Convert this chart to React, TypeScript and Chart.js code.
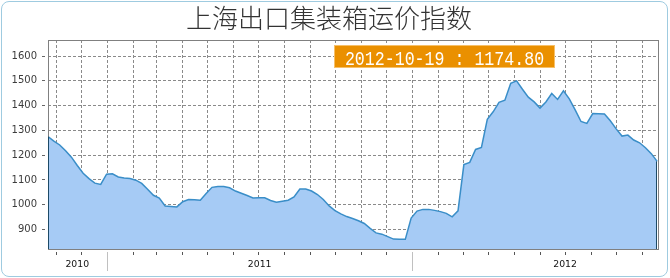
import React, { useEffect, useRef } from 'react';
import { Chart, registerables } from 'chart.js';

Chart.register(...registerables);

const TITLE = '上海出口集装箱运价指数';
const FIRST_WEEK = '2010-10-22';

// weekly index values (2010-10-22 … 2012-10-19)
const indexValues = [
  1275, 1257, 1241, 1218, 1192, 1158, 1127, 1105, 1087, 1082,
  1123, 1125, 1112, 1108, 1106, 1099, 1086, 1062, 1038, 1027,
  995, 993, 991, 1012, 1021, 1020, 1018, 1045, 1070, 1073,
  1073, 1068, 1055, 1046, 1037, 1027, 1028, 1028, 1017, 1010,
  1014, 1018, 1031, 1063, 1063, 1055, 1041, 1021, 995, 976,
  963, 952, 944, 935, 924, 904, 886, 881, 871, 861,
  860, 860, 946, 974, 981, 981, 977, 972, 965, 951,
  975, 1162, 1171, 1223, 1231, 1345, 1375, 1413, 1422, 1490,
  1500, 1466, 1434, 1415, 1390, 1415, 1449, 1425, 1460, 1427,
  1383, 1336, 1328, 1368, 1367, 1366, 1339, 1306, 1277, 1281,
  1261, 1250, 1230, 1206, 1174.8,
];

const yTickValues = [900, 1000, 1100, 1200, 1300, 1400, 1500, 1600];
const yearLabels = ['2010', '2011', '2012'];
const yearLabelDates = ['2010-11-26', '2011-07-02', '2012-07-01'];
const yearStartDates = ['2011-01-01', '2012-01-01'];
const Y_MIN = 821;
const Y_MAX = 1665;

const DAY = 86400000;
const toDay = (s: string) => Date.parse(s + 'T00:00:00Z') / DAY;
const toIso = (d: number) => new Date(d * DAY).toISOString().slice(0, 10);

const weekDates = indexValues.map((_, i) => toIso(toDay(FIRST_WEEK) + 7 * i));

const monthTickDates: string[] = [];
for (let y = 2010; y <= 2012; y++) {
  for (let m = 1; m <= 12; m++) {
    const s = `${y}-${String(m).padStart(2, '0')}-01`;
    if (toDay(s) > toDay(weekDates[0]) && toDay(s) < toDay(weekDates[weekDates.length - 1])) monthTickDates.push(s);
  }
}

const decorPlugin = {
  id: 'decor',
  afterDraw(chart: any) {
    const { ctx, chartArea: a, scales } = chart;
    const x = scales.x;
    const y = scales.y;
    const L = Math.round(a.left);
    const T = Math.round(a.top);
    const R = Math.round(a.right);
    const B = Math.round(a.bottom);
    ctx.save();
    // frame
    ctx.strokeStyle = '#808080';
    ctx.lineWidth = 1;
    ctx.setLineDash([]);
    ctx.strokeRect(L + 0.5, T + 0.5, R - L, B - T);
    // dark edges of the filled area
    const meta = chart.getDatasetMeta(0);
    const first = meta.data[0];
    const last = meta.data[meta.data.length - 1];
    ctx.strokeStyle = '#1d4a66';
    ctx.beginPath();
    ctx.moveTo(Math.round(first.x) + 0.5, first.y);
    ctx.lineTo(Math.round(first.x) + 0.5, B);
    ctx.moveTo(Math.round(last.x) - 0.5, last.y);
    ctx.lineTo(Math.round(last.x) - 0.5, B);
    ctx.stroke();
    // y tick marks
    ctx.fillStyle = '#666';
    yTickValues.forEach((v) => {
      const py = Math.round(y.getPixelForValue(v) - 0.5);
      ctx.fillRect(L - 6, py, 3, 1);
    });
    // x month ticks
    const yearDays = yearStartDates.map(toDay);
    monthTickDates.forEach((d) => {
      const px = Math.round(x.getPixelForValue(toDay(d)) - 0.5);
      if (yearDays.includes(toDay(d))) {
        ctx.fillStyle = '#c0c0c0';
        ctx.fillRect(px, B + 3, 1, 19);
      } else {
        ctx.fillStyle = '#555';
        ctx.fillRect(px, B + 3, 1, 3);
      }
    });
    // year labels
    ctx.fillStyle = '#111';
    ctx.font = '9.3px "DejaVu Sans"';
    ctx.textAlign = 'center';
    ctx.textBaseline = 'alphabetic';
    yearLabels.forEach((lab, i) => {
      ctx.fillText(lab, x.getPixelForValue(toDay(yearLabelDates[i])), B + 17.5);
    });
    // annotation box with last value
    const text = `${weekDates[weekDates.length - 1]} : ${indexValues[indexValues.length - 1].toFixed(2)}`;
    const bx = 334, by = 45, bw = 221, bh = 23;
    ctx.fillStyle = '#ea9000';
    ctx.fillRect(bx, by, bw, bh);
    ctx.strokeStyle = '#f6c06a';
    ctx.strokeRect(bx + 0.5, by + 0.5, bw - 1, bh - 1);
    ctx.save();
    ctx.translate(bx + bw / 2, by + 19.5);
    ctx.scale(0.83, 1);
    ctx.fillStyle = '#ffffff';
    ctx.font = '20px "Liberation Mono"';
    ctx.textAlign = 'center';
    ctx.fillText(text, 0, 0);
    ctx.restore();
    ctx.restore();
  },
};

export default function App() {
  const ref = useRef<HTMLCanvasElement>(null);
  useEffect(() => {
    document.body.style.margin = '0';
    const canvas = ref.current;
    if (!canvas) return;
    const xMin = toDay(weekDates[0]);
    const xMax = toDay(weekDates[weekDates.length - 1]) + 1;
    const chart = new Chart(canvas, {
      type: 'line',
      data: {
        datasets: [
          {
            data: indexValues.map((v, i) => ({ x: toDay(weekDates[i]), y: v })),
            borderColor: '#3a8ec8',
            backgroundColor: '#a6cbf5',
            borderWidth: 1.5,
            fill: 'start',
            pointRadius: 0,
            tension: 0,
          },
        ],
      },
      options: {
        animation: false,
        responsive: false,
        maintainAspectRatio: false,
        layout: { padding: { left: 0, right: 12, top: 0, bottom: 0 } },
        plugins: {
          legend: { display: false },
          tooltip: { enabled: false },
          title: {
            display: true,
            text: TITLE,
            color: '#333',
            font: { family: '"Noto Sans CJK SC"', size: 26, weight: '300', lineHeight: 1.2 },
            padding: { top: 2.5, bottom: 6.3 },
          },
        },
        scales: {
          x: {
            type: 'linear',
            min: xMin,
            max: xMax,
            afterBuildTicks: (s: any) => {
              s.ticks = monthTickDates.map((d) => ({ value: toDay(d) }));
            },
            afterFit: (s: any) => {
              s.height = 29;
            },
            ticks: { display: false },
            grid: { color: '#8a8a8a', lineWidth: 1, drawTicks: false },
            border: { display: false, dash: [3, 2] },
          },
          y: {
            min: Y_MIN,
            max: Y_MAX,
            afterBuildTicks: (s: any) => {
              s.ticks = yTickValues.map((v) => ({ value: v }));
            },
            afterFit: (s: any) => {
              s.width = 48;
            },
            ticks: {
              padding: 11,
              autoSkip: false,
              color: '#3c3c3c',
              font: { family: '"DejaVu Sans"', size: 10 },
              callback: (v: any) => String(v),
            },
            grid: { color: '#8a8a8a', lineWidth: 1, drawTicks: false },
            border: { display: false, dash: [3, 2] },
          },
        },
      },
      plugins: [decorPlugin],
    });
    return () => chart.destroy();
  }, []);
  return (
    <div style={{ position: 'relative', width: 670, height: 278, background: '#fff' }}>
      <canvas ref={ref} width={670} height={278} style={{ display: 'block', width: 670, height: 278 }} />
      <div
        style={{
          position: 'absolute',
          left: 1,
          top: 1,
          width: 667,
          height: 276,
          boxSizing: 'border-box',
          border: '1px solid #9fcbe0',
          borderRadius: 8,
          pointerEvents: 'none',
        }}
      />
    </div>
  );
}
